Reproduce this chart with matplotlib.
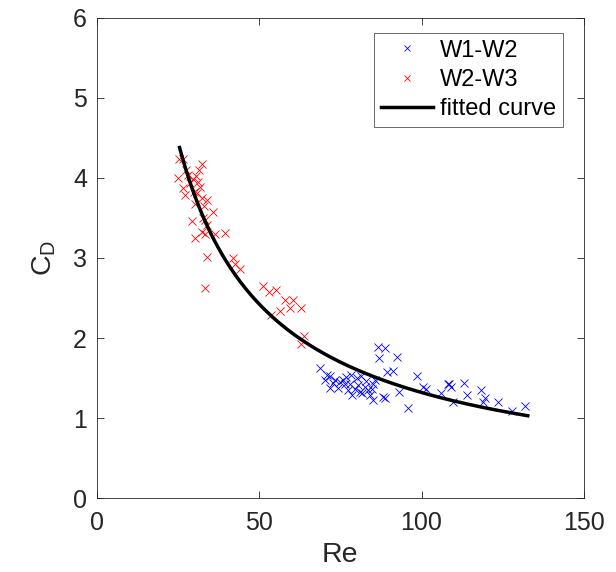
import numpy as np
import matplotlib
matplotlib.use("Agg")
import matplotlib.pyplot as plt

# W1-W2 measurements
re_w12 = [68.7, 70.8, 71.8, 70.2, 73.3, 74.8, 75.9, 76.4, 71.8, 74.3,
          77.9, 78.4, 80.0, 77.4, 79.5, 80.5, 81.0, 81.5, 82.5, 83.6,
          84.6, 85.1, 85.6, 84.1, 85.1, 88.2, 86.6, 88.7, 86.9, 92.3,
          89.4, 91.3, 93.1, 95.9, 98.5, 100.5, 101.5, 105.9, 108.2, 109.2,
          109.7, 113.0, 113.9, 118.3, 119.5, 119.0, 123.6, 127.7, 131.8, 108.6,
          72.7, 76.7, 81.6, 82.9, 78.5, 88.7]
cd_w12 = [1.62, 1.54, 1.52, 1.48, 1.48, 1.45, 1.48, 1.43, 1.38, 1.38,
          1.43, 1.54, 1.50, 1.35, 1.37, 1.41, 1.33, 1.52, 1.39, 1.35,
          1.37, 1.43, 1.48, 1.29, 1.23, 1.27, 1.89, 1.88, 1.75, 1.76,
          1.57, 1.59, 1.33, 1.13, 1.53, 1.39, 1.37, 1.31, 1.43, 1.39,
          1.20, 1.44, 1.29, 1.35, 1.25, 1.20, 1.20, 1.09, 1.15, 1.42,
          1.44, 1.51, 1.31, 1.46, 1.29, 1.25]

# W2-W3 measurements
re_w23 = [25.3, 26.5, 32.3, 25.0, 27.6, 30.7, 29.7, 31.2, 28.6, 26.6,
          31.7, 27.1, 32.3, 33.8, 30.2, 33.1, 35.8, 29.2, 33.3, 33.8,
          32.3, 33.3, 30.2, 36.3, 39.4, 34.0, 42.0, 42.5, 44.0, 33.3,
          51.2, 53.1, 55.3, 57.9, 60.3, 59.4, 63.0, 53.8, 56.4, 63.9,
          63.0, 28.0, 29.9, 31.4, 32.7, 30.8]
cd_w23 = [4.23, 4.24, 4.17, 4.00, 4.10, 4.02, 3.98, 3.95, 3.93, 3.87,
          3.89, 3.79, 3.75, 3.73, 3.68, 3.65, 3.58, 3.46, 3.48, 3.41,
          3.33, 3.30, 3.25, 3.30, 3.31, 3.01, 3.00, 2.93, 2.86, 2.62,
          2.65, 2.57, 2.60, 2.48, 2.48, 2.38, 2.38, 2.29, 2.34, 2.02,
          1.93, 4.04, 3.83, 4.10, 3.50, 3.81]

# power-law fit C_D = a * Re^b
fit_a = 75.1
fit_b = -0.8775
fit_re_min, fit_re_max = 25.5, 132.7

plt.rcParams['font.family'] = ['Liberation Sans', 'DejaVu Sans']
dark = (0.15, 0.15, 0.15)

fig = plt.figure(figsize=(6.16, 5.72), dpi=100)
ax = fig.add_axes([0.157, 0.129, 0.791, 0.840])

ax.plot(re_w12, cd_w12, 'x', color=(0, 0, 1), markersize=6, markeredgewidth=0.6, label='W1-W2')
ax.plot(re_w23, cd_w23, 'x', color=(1, 0, 0), markersize=6, markeredgewidth=0.6, label='W2-W3')

re_fit = np.linspace(fit_re_min, fit_re_max, 200)
ax.plot(re_fit, fit_a * re_fit ** fit_b, 'k-', linewidth=2.5, label='fitted curve')

ax.set_xlim(0, 150)
ax.set_ylim(0, 6)
ax.set_xticks([0, 50, 100, 150])
ax.set_yticks([0, 1, 2, 3, 4, 5, 6])
ax.set_xlabel('Re', fontsize=20.5, color=dark, labelpad=5)
ax.set_ylabel('C$_\\mathregular{D}$', fontsize=20.5, color=dark, labelpad=11)

for s in ax.spines.values():
    s.set_color(dark)
    s.set_linewidth(0.6)
ax.tick_params(direction='in', length=5, width=0.6, top=True, right=True,
               labelsize=18, colors=dark)
ax.tick_params(axis='x', pad=9)
ax.tick_params(axis='y', pad=7)

leg = ax.legend(loc='upper right', bbox_to_anchor=(0.957, 0.969), borderaxespad=0,
                fontsize=17, frameon=True, fancybox=False, markerscale=0.7,
                handlelength=2.2, handletextpad=0.3,
                labelspacing=0.3, borderpad=0.3)
leg.get_frame().set_edgecolor(dark)
leg.get_frame().set_linewidth(0.6)

fig.savefig('out.png', dpi=100)
